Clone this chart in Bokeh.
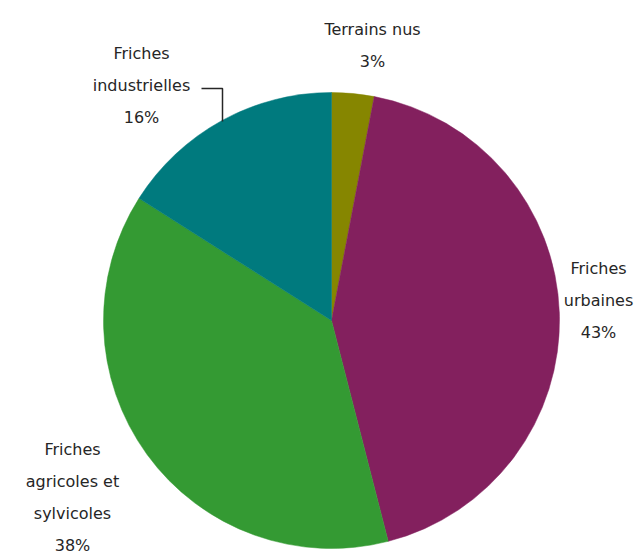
import math
from bokeh.plotting import figure
from bokeh.models import Range1d, ColumnDataSource
from bokeh.core.properties import value
from bokeh.embed import file_html
from bokeh.resources import INLINE

# ---- data ----
categories = ["Terrains nus", "Friches urbaines", "Friches agricoles et sylvicoles", "Friches industrielles"]
shares = [3, 43, 38, 16]
colors = ["#868600", "#83205e", "#349a33", "#007a7e"]
label_lines = [
    ["Terrains nus", "3%"],
    ["Friches", "urbaines", "43%"],
    ["Friches", "agricoles et", "sylvicoles", "38%"],
    ["Friches", "industrielles", "16%"],
]

W, H = 643, 558
CX, CY, R = 331, 320, 228  # pixel coords (y down)
LINE_H = 32
label_pos = [(372, 29), (598, 268), (72, 449), (141, 53)]  # first-line centers (pixels)

def fy(y):
    return H - y

p = figure(width=W, height=H, output_backend="svg", toolbar_location=None,
           x_range=Range1d(0, W), y_range=Range1d(0, H),
           min_border=0, min_border_left=0, min_border_right=0,
           min_border_top=0, min_border_bottom=0)
p.axis.visible = False
p.grid.visible = False
p.outline_line_color = None
p.background_fill_color = "white"
p.border_fill_color = "white"

total = float(sum(shares))
starts, ends = [], []
cum = 0.0
for s in shares:
    a0 = math.pi / 2 - 2 * math.pi * cum / total
    cum += s
    a1 = math.pi / 2 - 2 * math.pi * cum / total
    starts.append(a1)
    ends.append(a0)

src = ColumnDataSource(dict(start=starts, end=ends, color=colors, cat=categories, share=shares))
p.wedge(x=CX, y=fy(CY), radius=R, radius_units="screen",
        start_angle="start", end_angle="end", fill_color="color",
        line_color="color", line_width=0.5, source=src)

tx, ty, tt = [], [], []
for (x0, y0), lines in zip(label_pos, label_lines):
    for i, t in enumerate(lines):
        tx.append(x0)
        ty.append(fy(y0 + i * LINE_H))
        tt.append(t)
p.text(x=tx, y=ty, text=tt, text_font=value("DejaVu Sans"), text_font_size="16px",
       text_color="#262626", text_align="center", text_baseline="middle")

# leader line for "Friches industrielles"
p.line(x=[201, 222, 222], y=[fy(88), fy(88), fy(121)], line_color="#262626", line_width=1.5)

open("out.html", "w").write(file_html(p, INLINE))
